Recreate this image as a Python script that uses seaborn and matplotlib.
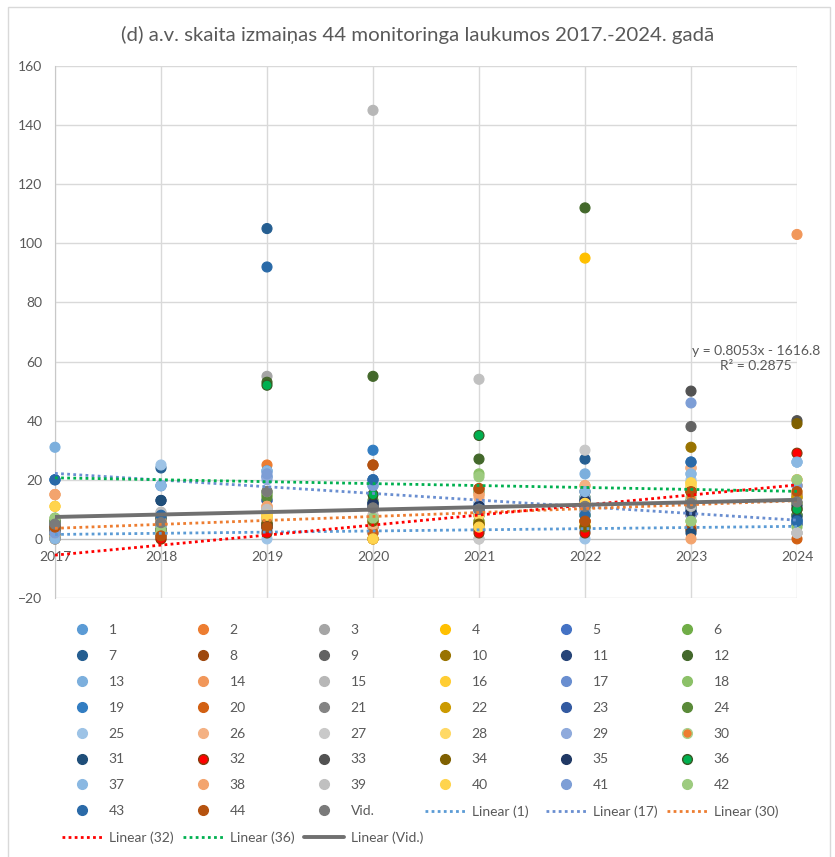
import numpy as np
import pandas as pd
import seaborn as sns
import matplotlib.pyplot as plt
from matplotlib.lines import Line2D
from matplotlib.patches import Rectangle

TITLE = '(d) a.v. skaita izmaiņas 44 monitoringa laukumos 2017.-2024. gadā'
YEARS = [2017, 2018, 2019, 2020, 2021, 2022, 2023, 2024]
PLOTS = [str(i) for i in range(1, 45)]

# counts per monitoring plot 1..44, one list per year
y2017 = [2, 3, 2, 11, 1, 7, 5, 4, 5, 2, 3, 2, 31, 15, 1, 0, 20, 6, 20, 3, 4, 2,
         1, 3, 0, 15, 3, 1, 2, 4, 4, 0, 3, 2, 2, 6, 0, 15, 2, 11, 2, 7, 20, 4]
y2018 = [1, 2, 6, 3, 8, 4, 24, 1, 5, 3, 13, 5, 18, 6, 9, 2, 18, 3, 8, 0, 6, 3,
         7, 5, 25, 5, 8, 2, 4, 3, 13, 0, 5, 3, 3, 7, 18, 6, 9, 2, 5, 3, 8, 1]
y2019 = [3, 25, 55, 8, 13, 15, 105, 4, 16, 5, 6, 53, 21, 11, 10, 8, 21, 15, 23, 4, 10, 7,
         13, 14, 0, 11, 10, 6, 20, 9, 5, 2, 5, 5, 4, 52, 23, 11, 10, 8, 22, 16, 92, 4]
y2020 = [2, 5, 10, 0, 10, 5, 20, 25, 12, 7, 4, 55, 18, 4, 145, 0, 20, 5, 30, 2, 10, 6,
         11, 13, 18, 5, 6, 0, 12, 6, 12, 0, 11, 6, 12, 15, 19, 8, 8, 0, 18, 7, 20, 25]
y2021 = [4, 8, 8, 6, 10, 6, 10, 17, 8, 5, 3, 27, 9, 15, 0, 4, 12, 22, 10, 3, 8, 5,
         11, 16, 12, 14, 0, 8, 11, 10, 11, 2, 10, 5, 11, 35, 10, 15, 54, 4, 10, 21, 10, 17]
y2022 = [3, 6, 12, 95, 8, 14, 27, 6, 12, 4, 10, 112, 22, 18, 10, 5, 8, 12, 8, 6, 12, 10,
         13, 14, 0, 18, 30, 10, 14, 8, 16, 2, 12, 4, 13, 11, 16, 12, 10, 12, 9, 8, 8, 6]
y2023 = [3, 4, 11, 19, 8, 12, 10, 3, 38, 31, 9, 13, 22, 24, 12, 18, 9, 6, 26, 8, 11, 17,
         9, 12, 20, 24, 11, 18, 8, 14, 2, 16, 50, 16, 9, 11, 22, 0, 11, 19, 46, 6, 26, 16]
y2024 = [5, 20, 2, 10, 6, 8, 12, 15, 10, 14, 5, 12, 26, 103, 2, 12, 6, 4, 6, 0, 12, 14,
         8, 8, 26, 18, 2, 20, 18, 12, 7, 29, 40, 39, 11, 10, 26, 18, 2, 16, 18, 20, 6, 16]
vid = [5, 5.5, 16, 10.5, 10, 11, 12, 12.5]

COLORS = ['#5B9BD5', '#ED7D31', '#A5A5A5', '#FFC000', '#4472C4', '#70AD47',
          '#255E91', '#9E480E', '#636363', '#997300', '#264478', '#43682B',
          '#7CAFDD', '#F1975A', '#B7B7B7', '#FFCD33', '#698ED0', '#8CC168',
          '#327DC2', '#D26012', '#848484', '#CC9A00', '#335AA1', '#5A8A39',
          '#9DC3E6', '#F4B183', '#C9C9C9', '#FFD966', '#8FAADC', '#ED7D31',
          '#1F4E79', '#FF0000', '#525252', '#7F6000', '#203864', '#00B050',
          '#8AB8E2', '#F3A46E', '#C0C0C0', '#FFD44D', '#7D9ED6', '#9DCB7F',
          '#2A6AA8', '#B5520F']
EDGES = {'30': '#A9D18E', '32': '#843C0C', '36': '#385723'}
VID_COLOR = '#7A7A7A'
TRENDS = [('1', '#5B9BD5'), ('17', '#698ED0'), ('30', '#ED7D31'),
          ('32', '#FF0000'), ('36', '#00B050')]

GREY = '#595959'
DOTTED = (0, (1, 1.2))

sns.set_style('white')
plt.rcParams['font.family'] = ['Lato', 'DejaVu Sans']

by_year = [y2017, y2018, y2019, y2020, y2021, y2022, y2023, y2024]
rows = []
for i, p in enumerate(PLOTS):
    for yr, vals in zip(YEARS, by_year):
        rows.append((p, yr, vals[i]))
for yr, v in zip(YEARS, vid):
    rows.append(('Vid.', yr, v))
df = pd.DataFrame(rows, columns=['plot', 'year', 'count'])

palette = dict(zip(PLOTS, COLORS))
palette['Vid.'] = VID_COLOR

fig = plt.figure(figsize=(8.35, 8.57), dpi=100)
ax = fig.add_axes([55 / 835, 1 - 598 / 857, (797 - 55) / 835, (598 - 66) / 857])

sns.scatterplot(data=df, x='year', y='count', hue='plot', palette=palette,
                s=52, linewidth=0.8, legend=False, clip_on=False, zorder=3, ax=ax)
edge_cols = [EDGES.get(p, palette[p]) for p in df['plot']]
ax.collections[0].set_edgecolors(edge_cols)

for p, c in TRENDS:
    sub = df[df['plot'] == p]
    sns.regplot(x=sub['year'], y=sub['count'], scatter=False, ci=None, ax=ax,
                color=c, line_kws=dict(ls=DOTTED, lw=2, zorder=4))
sns.regplot(x=YEARS, y=vid, scatter=False, ci=None, ax=ax,
            color='#707070', line_kws=dict(lw=2.8, zorder=4))

ax.text(2023.61, 61, 'y = 0.8053x - 1616.8\nR² = 0.2875', ha='center', va='center',
        multialignment='center', fontsize=10, color=GREY, linespacing=1.3)

ax.set_xlim(2017, 2024)
ax.set_ylim(-20, 160)
ax.set_xticks(YEARS)
ax.set_yticks(range(-20, 161, 20))
ax.set_xlabel('')
ax.set_ylabel('')
ax.grid(True, color='#D9D9D9', lw=1)
ax.set_axisbelow(True)
for s in ['top', 'right']:
    ax.spines[s].set_visible(False)
ax.spines['bottom'].set_position(('data', 0))
ax.spines['bottom'].set_color('#BFBFBF')
ax.spines['left'].set_color('#C8C8C8')
ax.tick_params(axis='x', length=0, pad=9, labelsize=10, labelcolor=GREY)
ax.tick_params(axis='y', length=0, pad=9, labelsize=10, labelcolor=GREY)

fig.text(0.5, 1 - 35 / 857, TITLE, ha='center', va='center', fontsize=14.7, color=GREY)

# legend: Excel fills it row by row in 6 evenly spaced columns
entries = []
for p in PLOTS + ['Vid.']:
    entries.append((Line2D([], [], marker='o', ls='none', markersize=7,
                           markerfacecolor=palette[p],
                           markeredgecolor=EDGES.get(p, palette[p])), p))
for p, c in TRENDS[:3]:
    entries.append((Line2D([], [], color=c, lw=2, ls=DOTTED), f'Linear ({p})'))
for p, c in TRENDS[3:]:
    entries.append((Line2D([], [], color=c, lw=2, ls=DOTTED), f'Linear ({p})'))
entries.append((Line2D([], [], color='#707070', lw=2.8), 'Linear (Vid.)'))

ncol = 6
for c in range(ncol):
    col = entries[c::ncol]
    leg = fig.legend([h for h, _ in col], [l for _, l in col],
                     loc='upper left', bbox_to_anchor=((62 + 121 * c) / 835, 1 - 624 / 857),
                     frameon=False, fontsize=10, handlelength=2.9, handletextpad=0.45,
                     labelspacing=1.0, borderpad=0, borderaxespad=0)
    for t in leg.get_texts():
        t.set_color(GREY)

fig.add_artist(Rectangle((8 / 835, -0.01), (830 - 8) / 835, 1 - 7 / 857 + 0.01,
                         transform=fig.transFigure, fill=False, ec='#D9D9D9', lw=1))

fig.savefig('out.png', dpi=100)
